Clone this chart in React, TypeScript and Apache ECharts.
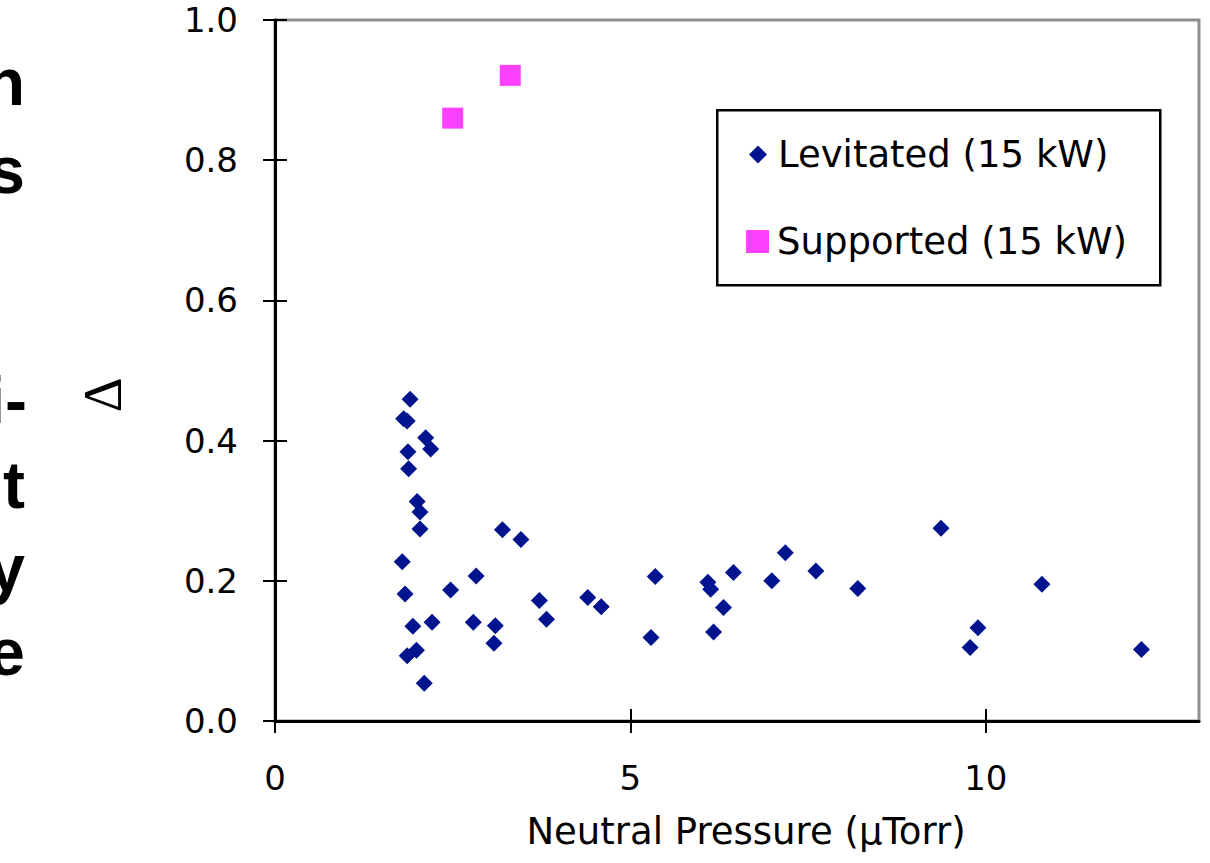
import React, { useEffect, useRef } from "react";
import * as echarts from "echarts";

const levitatedName = "Levitated (15 kW)";
const supportedName = "Supported (15 kW)";

const levitated: [number, number][] = [
  [1.9, 0.459], [1.81, 0.431], [1.86, 0.428], [2.12, 0.404], [2.19, 0.388],
  [1.87, 0.384], [1.88, 0.36], [2.0, 0.313], [2.04, 0.298], [2.04, 0.274],
  [1.79, 0.227], [1.83, 0.181], [2.47, 0.187], [1.94, 0.135], [2.21, 0.141],
  [1.86, 0.093], [1.99, 0.101], [2.1, 0.054],
  [3.2, 0.273], [3.46, 0.259], [2.83, 0.207], [2.79, 0.141], [3.1, 0.136],
  [3.08, 0.111], [3.72, 0.172], [3.82, 0.145], [4.4, 0.176], [4.59, 0.163],
  [5.35, 0.206], [5.29, 0.119],
  [6.09, 0.198], [6.13, 0.188], [6.45, 0.212], [6.31, 0.162], [6.17, 0.127],
  [7.18, 0.24], [6.99, 0.2], [7.61, 0.214], [8.2, 0.189], [9.37, 0.275],
  [9.89, 0.133], [9.78, 0.105], [10.79, 0.195], [12.19, 0.102],
];

const supported: [number, number][] = [
  [2.5, 0.86], [3.31, 0.921],
];

const xTicks = [0, 5, 10];

const xTitle = "Neutral Pressure (μTorr)";
const yTitle = "Δ";

// fragments of cropped slide text at the left edge
const sideFragments = ["n", "s", "i-", "nt", "y", "e"];
const sideFragmentY = [82, 170, 400, 485, 568, 652];
const sideFragmentX = [25, 25, 27, 25, 25, 25];

export default function App() {
  const ref = useRef<HTMLDivElement>(null);
  useEffect(() => {
    if (!ref.current) return;
    const chart = echarts.init(ref.current, null, { renderer: "svg" });
    const font = "'DejaVu Sans', Verdana, sans-serif";
    const gridBox = { left: 275, top: 20, right: 11, bottom: 142 };
    const tickStyle = { color: "#000", width: 2 };
    chart.setOption({
      animation: false,
      backgroundColor: "#ffffff",
      grid: [
        {
          ...gridBox,
          show: true,
          borderColor: "#8e8e8e",
          borderWidth: 3,
          backgroundColor: "transparent",
        },
        { ...gridBox, show: false },
      ],
      xAxis: [
        {
          type: "value",
          gridIndex: 0,
          min: 0,
          max: 13,
          interval: 5,
          splitLine: { show: false },
          axisLine: { show: true, lineStyle: { color: "#000", width: 3 } },
          axisTick: { show: true, length: 12, lineStyle: tickStyle, customValues: xTicks },
          axisLabel: {
            customValues: xTicks,
            margin: 40,
            color: "#000",
            fontFamily: font,
            fontSize: 34,
          },
          name: xTitle,
          nameLocation: "middle",
          nameGap: 92,
          nameTextStyle: { color: "#000", fontFamily: font, fontSize: 37, padding: [0, 0, 0, 18] },
          z: 5,
        },
        {
          type: "value",
          gridIndex: 1,
          position: "bottom",
          min: 0,
          max: 13,
          interval: 5,
          splitLine: { show: false },
          axisLine: { show: false },
          axisTick: { show: true, inside: true, length: 12, lineStyle: tickStyle, customValues: xTicks },
          axisLabel: { show: false },
          z: 5,
        },
      ],
      yAxis: [
        {
          type: "value",
          gridIndex: 0,
          min: 0,
          max: 1,
          interval: 0.2,
          splitLine: { show: false },
          axisLine: { show: true, lineStyle: { color: "#000", width: 3 } },
          axisTick: { show: true, length: 12, lineStyle: tickStyle },
          axisLabel: {
            margin: 37,
            color: "#000",
            fontFamily: font,
            fontSize: 34,
            formatter: (v: number) => v.toFixed(1),
          },
          z: 5,
        },
        {
          type: "value",
          gridIndex: 1,
          position: "left",
          min: 0,
          max: 1,
          interval: 0.2,
          splitLine: { show: false },
          axisLine: { show: false },
          axisTick: { show: true, inside: true, length: 12, lineStyle: tickStyle },
          axisLabel: { show: false },
          z: 5,
        },
      ],
      legend: [
        {
          data: [{ name: levitatedName, icon: "diamond" }],
          left: 749,
          top: 136,
          padding: 0,
          itemWidth: 18,
          itemHeight: 18,
          selectedMode: false,
          textStyle: { color: "#000", fontFamily: font, fontSize: 37, padding: [0, 0, 0, 6] },
        },
        {
          data: [{ name: supportedName, icon: "rect" }],
          left: 746,
          top: 223,
          padding: 0,
          itemWidth: 23,
          itemHeight: 23,
          selectedMode: false,
          textStyle: { color: "#000", fontFamily: font, fontSize: 37, padding: [0, 0, 0, 3] },
        },
      ],
      graphic: [
        {
          type: "rect",
          left: 716,
          top: 109,
          shape: { width: 443, height: 175 },
          style: { fill: "#fff", stroke: "#000", lineWidth: 2.5 },
          z: -1,
        },
        {
          type: "text",
          x: 103,
          y: 395,
          rotation: Math.PI / 2,
          style: {
            text: yTitle,
            font: "54px 'Liberation Serif', serif",
            fill: "#000",
            align: "center",
            verticalAlign: "middle",
          },
        },
        ...sideFragments.map((t, i) => ({
          type: "text",
          x: sideFragmentX[i],
          y: sideFragmentY[i],
          style: {
            text: t,
            font: "bold 66px 'Liberation Sans', Arial, sans-serif",
            fill: "#000",
            align: "right",
            verticalAlign: "middle",
          },
        })),
      ],
      series: [
        {
          name: levitatedName,
          type: "scatter",
          xAxisIndex: 0,
          yAxisIndex: 0,
          symbol: "diamond",
          symbolSize: 17,
          itemStyle: { color: "#001490", opacity: 1 },
          data: levitated,
          z: 3,
        },
        {
          name: supportedName,
          type: "scatter",
          xAxisIndex: 0,
          yAxisIndex: 0,
          symbol: "rect",
          symbolSize: 21,
          itemStyle: { color: "#ff40ff", opacity: 1 },
          data: supported,
          z: 3,
        },
        {
          name: "_ticks",
          type: "scatter",
          xAxisIndex: 1,
          yAxisIndex: 1,
          data: [],
          silent: true,
        },
      ],
    });
    return () => chart.dispose();
  }, []);
  return (
    <div
      ref={ref}
      style={{ position: "fixed", left: 0, top: 0, width: 1210, height: 863, background: "#fff" }}
    />
  );
}
